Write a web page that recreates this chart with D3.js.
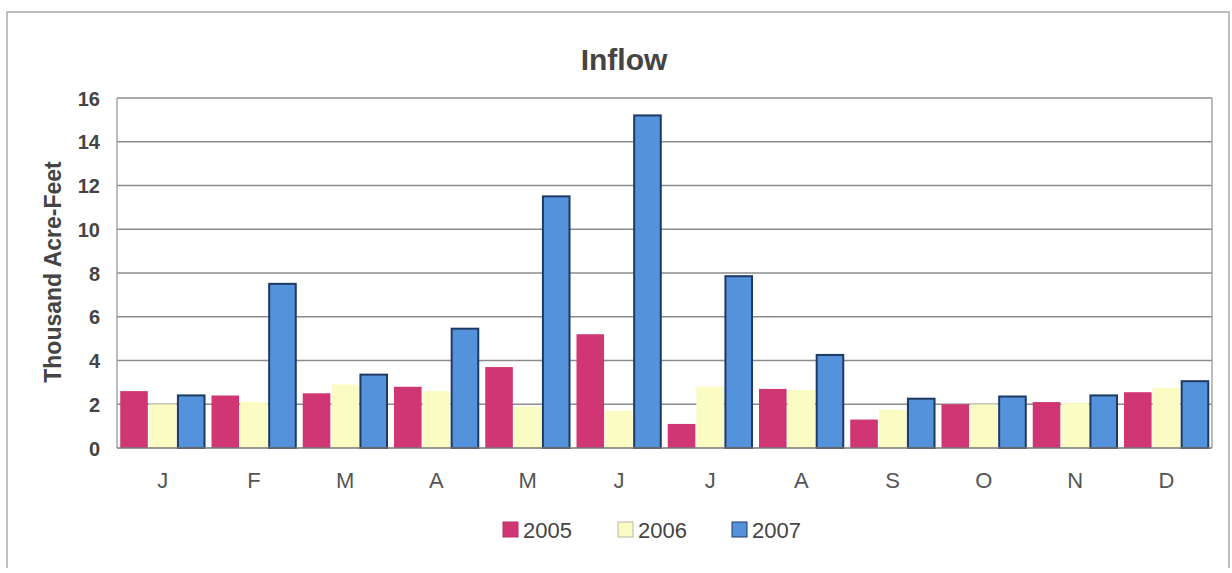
<!DOCTYPE html>
<html><head><meta charset="utf-8">
<script src="https://cdn.jsdelivr.net/npm/d3@7"></script>
<style>body{margin:0;background:#fff}svg{display:block}text{font-family:"Liberation Sans",Arial,sans-serif}</style>
</head><body>
<svg id="c" width="1232" height="573"></svg>
<script>
const months = ["J","F","M","A","M","J","J","A","S","O","N","D"];
const years = ["2005","2006","2007"];
const v2005 = [2.6,2.4,2.5,2.8,3.7,5.2,1.1,2.7,1.3,2.0,2.1,2.55];
const v2006 = [2.0,2.1,2.9,2.6,1.9,1.7,2.8,2.65,1.75,2.0,2.05,2.75];
const v2007 = [2.45,7.55,3.4,5.5,11.55,15.25,7.9,4.3,2.3,2.4,2.45,3.1];
const yTicks = [0,2,4,6,8,10,12,14,16];
const colors = {"2005":"#cf3673","2006":"#fbfbc4","2007":"#5592dc"};
const strokes = {"2005":"#b83068","2006":"#e8e8b0","2007":"#1f3a62"};

const series = {"2005":v2005,"2006":v2006,"2007":v2007};
const svg = d3.select("#c");
const L=117,R=1212,T=98,B=448;

// outer border
svg.append("path").attr("d","M7,568 L7,12 L1229,12 L1229,568").attr("fill","none").attr("stroke","#aaa").attr("stroke-width",1.5);

const idx = months.map((m,i)=>i);
const x0 = d3.scaleBand().domain(idx).range([L,R]).paddingInner(0.06).paddingOuter(0.03);
const x1 = d3.scaleBand().domain(years).range([0,x0.bandwidth()]);
const y = d3.scaleLinear().domain([0,16]).range([B,T]);

// grid
svg.append("g").selectAll("line").data(yTicks.filter(d=>d>0)).join("line")
  .attr("x1",L).attr("x2",R).attr("y1",d=>y(d)).attr("y2",d=>y(d))
  .attr("stroke","#8c8c8c").attr("stroke-width",1.3);
svg.append("line").attr("x1",R).attr("x2",R).attr("y1",T).attr("y2",B).attr("stroke","#999").attr("stroke-width",1.3);
svg.append("line").attr("x1",L).attr("x2",L).attr("y1",T).attr("y2",B).attr("stroke","#999").attr("stroke-width",1.3);

// bars
years.forEach(yr=>{
  svg.append("g").selectAll("rect").data(series[yr]).join("rect")
    .attr("x",(d,i)=>x0(i)+x1(yr)+(yr==="2007"?1:0.5))
    .attr("width",x1.bandwidth()-(yr==="2007"?2:1))
    .attr("y",d=>y(d)+(yr==="2007"?1:0))
    .attr("height",d=>B-y(d)-(yr==="2007"?1:0))
    .attr("fill",colors[yr])
    .attr("stroke",yr==="2007"?strokes[yr]:"none")
    .attr("stroke-width",2);
});
// baseline
svg.append("line").attr("x1",L).attr("x2",R).attr("y1",B).attr("y2",B).attr("stroke","#777").attr("stroke-width",1.5);

// y axis
const yAxis = d3.axisLeft(y).tickValues(yTicks).tickSize(0).tickPadding(0);
const gy = svg.append("g").attr("transform",`translate(${L-17},0)`).call(yAxis);
gy.select(".domain").remove();
gy.selectAll("text").attr("font-size",20).attr("font-weight","bold").attr("fill","#444")
  .attr("font-family","'Liberation Sans',Arial,sans-serif").attr("dy","0.35em");

// x axis labels
const xAxis = d3.axisBottom(x0).tickFormat(i=>months[i]).tickSize(0).tickPadding(0);
const gx = svg.append("g").attr("transform",`translate(0,${B+25})`).call(xAxis);
gx.select(".domain").remove();
gx.selectAll("text").attr("font-size",22).attr("fill","#555")
  .attr("font-family","'Liberation Sans',Arial,sans-serif").attr("dy","0.7em");

// title
svg.append("text").attr("x",624).attr("y",70).attr("text-anchor","middle")
  .attr("font-size",30).attr("font-weight","bold").attr("fill","#444").text("Inflow");

// y label
svg.append("text").attr("transform","translate(61,272) rotate(-90)").attr("text-anchor","middle")
  .attr("font-size",23).attr("font-weight","bold").attr("fill","#444").text("Thousand Acre-Feet");

// legend
const legX = {"2005":503,"2006":618,"2007":732};
const lg = svg.append("g");
years.forEach(yr=>{
  lg.append("rect").attr("x",legX[yr]).attr("y",522).attr("width",15).attr("height",15)
    .attr("fill",colors[yr]).attr("stroke",yr==="2006"?"#b8b8a0":strokes[yr]).attr("stroke-width",1);
  lg.append("text").attr("x",legX[yr]+20).attr("y",538).attr("font-size",22).attr("fill","#444").text(yr);
});
</script>
</body></html>
